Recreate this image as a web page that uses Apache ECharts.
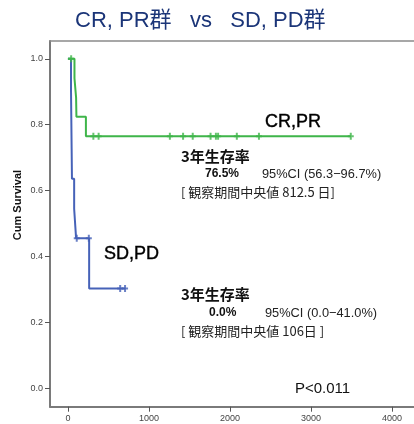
<!DOCTYPE html>
<html>
<head>
<meta charset="utf-8">
<script src="https://cdn.jsdelivr.net/npm/echarts@6/dist/echarts.min.js"></script>
<style>
html,body{margin:0;padding:0;background:#fff;}
#c{width:414px;height:424px;}
</style>
</head>
<body>
<div id="c"></div>
<script>
// CR,PR group (Kaplan-Meier step points)
const crprTimes = [0, 81, 101, 105, 222, 3490];
const crprSurv  = [1.0, 0.941, 0.882, 0.824, 0.765, 0.765];
const crprCensorTimes = [40, 314, 379, 1258, 1421, 1540, 1760, 1826, 1853, 2084, 2357, 3490];
const crprCensorSurv  = [1.0, 0.765, 0.765, 0.765, 0.765, 0.765, 0.765, 0.765, 0.765, 0.765, 0.765, 0.765];

// SD,PD group
const sdpdTimes = [0, 38, 42, 46, 50, 77, 101, 262, 713];
const sdpdSurv  = [1.0, 0.909, 0.818, 0.727, 0.636, 0.545, 0.455, 0.303, 0.303];
const sdpdCensorTimes = [109, 258, 645, 705];
const sdpdCensorSurv  = [0.455, 0.455, 0.303, 0.303];

const xTicks = [0, 1000, 2000, 3000, 4000];
const yTicks = [0.0, 0.2, 0.4, 0.6, 0.8, 1.0];

const green = '#3fb54a';
const blue = '#4662b8';
const plus = 'path://M-1,-3.5H1V-1H3V1H1V3.5H-1V1H-3V-1H-1Z';

function pairs(xs, ys){ return xs.map((x,i)=>[x, ys[i]]); }

const chart = echarts.init(document.getElementById('c'), null, {renderer:'canvas'});
const latin = '"Liberation Sans", Arial, "Noto Sans CJK JP", sans-serif';
const jp = '"Noto Sans CJK JP", "Liberation Sans", sans-serif';

chart.setOption({
  animation: false,
  backgroundColor: '#fff',
  grid: {left: 50, top: 41, width: 372, bottom: 17.3, show: false},
  xAxis: [{
    type: 'value', min: -221, max: 4270,
    axisLine: {show: true, onZero: false, lineStyle: {color: '#7a7a7a', width: 2}},
    axisTick: {show: true, customValues: xTicks, length: 5, lineStyle: {color: '#555', width: 1}},
    axisLabel: {show: true, customValues: xTicks, fontSize: 9, color: '#444', margin: 7, fontFamily: latin,
      formatter: v => String(v)},
    splitLine: {show: false}
  }, {
    type: 'value', position: 'top', min: -221, max: 4270,
    axisLine: {show: true, onZero: false, lineStyle: {color: '#8a8a8a', width: 1.5}},
    axisTick: {show: false}, axisLabel: {show: false}, splitLine: {show: false}
  }],
  yAxis: {
    type: 'value', min: -0.056, max: 1.054,
    axisLine: {show: true, onZero: false, lineStyle: {color: '#7a7a7a', width: 2}},
    axisTick: {show: true, customValues: yTicks, length: 5, lineStyle: {color: '#555', width: 1}},
    axisLabel: {show: true, customValues: yTicks, fontSize: 9, color: '#444', margin: 7, fontFamily: latin,
      formatter: v => v.toFixed(1)},
    splitLine: {show: false}
  },
  series: [
    {type: 'line', step: 'end', data: pairs(sdpdTimes, sdpdSurv), showSymbol: false,
      lineStyle: {color: blue, width: 2}, itemStyle: {color: blue}, z: 2},
    {type: 'line', step: 'end', data: pairs(crprTimes, crprSurv), showSymbol: false,
      lineStyle: {color: green, width: 2}, itemStyle: {color: green}, z: 3},
    {type: 'scatter', data: pairs(sdpdCensorTimes, sdpdCensorSurv), symbol: plus, symbolSize: [6, 7],
      itemStyle: {color: blue}, z: 4},
    {type: 'scatter', data: pairs(crprCensorTimes, crprCensorSurv), symbol: plus, symbolSize: [6, 7],
      itemStyle: {color: green}, z: 5}
  ],
  graphic: [
    {type: 'text', x: 75, y: 10, style: {text: 'CR, PR群   vs   SD, PD群', fontSize: 22, fill: '#1b3578', fontFamily: latin}},
    {type: 'text', x: 18, y: 205, rotation: Math.PI/2, style: {text: 'Cum Survival', fontSize: 11, fontWeight: 'bold', fill: '#111', fontFamily: latin, align: 'center', verticalAlign: 'middle'}},
    {type: 'text', x: 265, y: 122, style: {text: 'CR,PR', fontSize: 18, fill: '#000', fontFamily: latin, verticalAlign: 'middle', stroke: '#000', lineWidth: 0.4}},
    {type: 'text', x: 181, y: 156, style: {text: '3年生存率', fontSize: 15, fontWeight: 'bold', fill: '#111', fontFamily: jp, verticalAlign: 'middle'}},
    {type: 'text', x: 205, y: 174, style: {text: '76.5%', fontSize: 12, fontWeight: 'bold', fill: '#111', fontFamily: latin, verticalAlign: 'middle'}},
    {type: 'text', x: 262, y: 174, style: {text: '95%CI (56.3−96.7%)', fontSize: 12.8, fill: '#222', fontFamily: latin, verticalAlign: 'middle'}},
    {type: 'text', x: 181, y: 192, style: {text: '[ 観察期間中央値 812.5 日]', fontSize: 13, fill: '#222', fontFamily: jp, verticalAlign: 'middle'}},
    {type: 'text', x: 104, y: 254, style: {text: 'SD,PD', fontSize: 18, fill: '#000', fontFamily: latin, verticalAlign: 'middle', stroke: '#000', lineWidth: 0.4}},
    {type: 'text', x: 181, y: 294, style: {text: '3年生存率', fontSize: 15, fontWeight: 'bold', fill: '#111', fontFamily: jp, verticalAlign: 'middle'}},
    {type: 'text', x: 209, y: 313, style: {text: '0.0%', fontSize: 12, fontWeight: 'bold', fill: '#111', fontFamily: latin, verticalAlign: 'middle'}},
    {type: 'text', x: 265, y: 313, style: {text: '95%CI (0.0−41.0%)', fontSize: 12.8, fill: '#222', fontFamily: latin, verticalAlign: 'middle'}},
    {type: 'text', x: 181, y: 331, style: {text: '[ 観察期間中央値 106日 ]', fontSize: 13, fill: '#222', fontFamily: jp, verticalAlign: 'middle'}},
    {type: 'text', x: 295, y: 389, style: {text: 'P<0.011', fontSize: 15, fill: '#111', fontFamily: latin, verticalAlign: 'middle'}}
  ]
});
</script>
</body>
</html>
